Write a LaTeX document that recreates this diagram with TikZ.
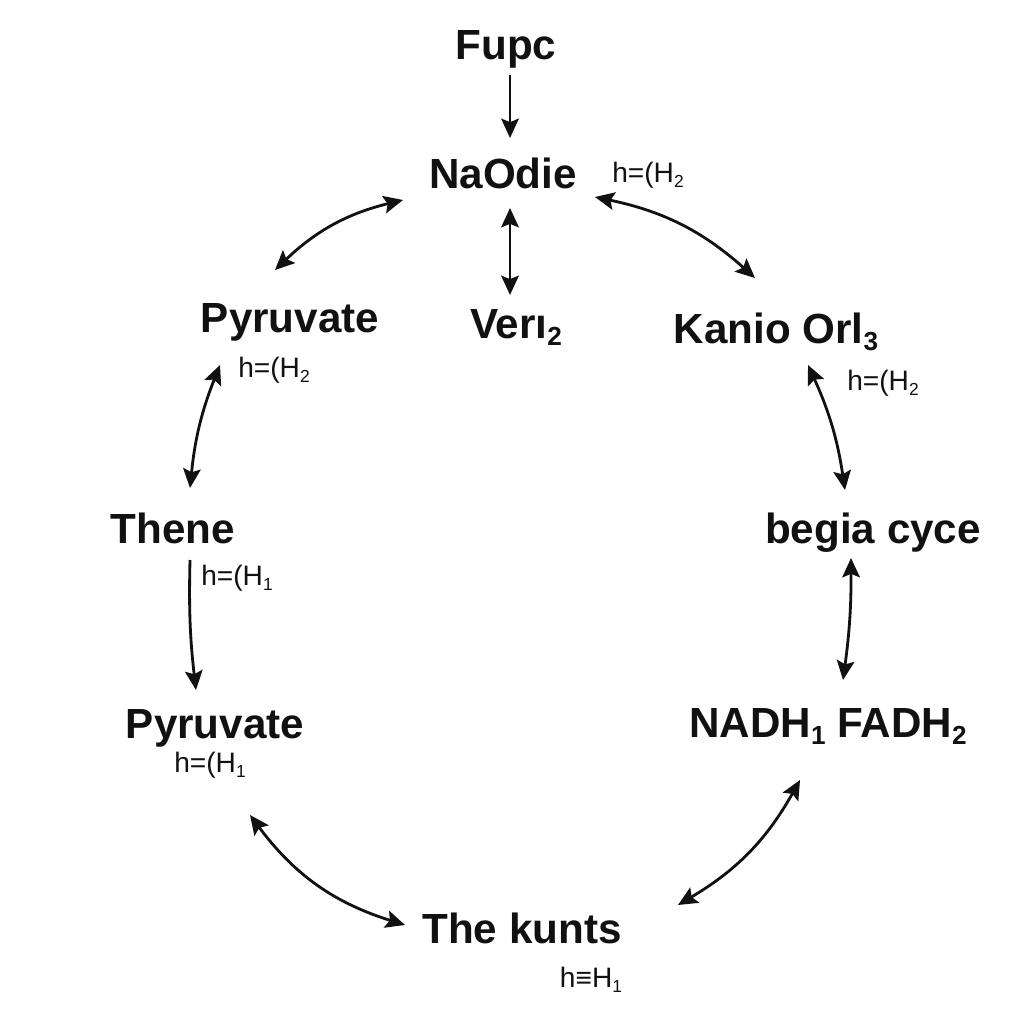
\documentclass[tikz,border=0pt]{standalone}
\usepackage{fontspec}
\setmainfont{Liberation Sans}
\usetikzlibrary{arrows.meta}
\definecolor{ink}{HTML}{111111}
\newcommand\sbs[1]{\raisebox{-0.35ex}{\scalebox{0.62}{#1}}}
\tikzset{
  mainlbl/.style={font=\bfseries\fontsize{24}{26}\selectfont, text=ink, inner sep=0pt, anchor=base},
  sublbl/.style={font=\fontsize{16}{18}\selectfont, text=ink, inner sep=0pt, anchor=base},
  arr2/.style={line width=1.6pt, draw=ink, {Stealth[length=11pt,width=10pt,inset=2pt]}-{Stealth[length=11pt,width=10pt,inset=2pt]}},
  arr1/.style={line width=1.6pt, draw=ink, -{Stealth[length=11pt,width=10pt,inset=2pt]}}
}
\begin{document}
\begin{tikzpicture}[x=0.02cm,y=-0.02cm]
\useasboundingbox[fill=white] (0,0) rectangle (1024,1024);
% main nodes
\node[mainlbl] (fupc)   at (506,60)  {Fupc};
\node[mainlbl] (naodie) at (503,188) {NaOdie};
\node[mainlbl] (veri)   at (516,338) {Ver\i\sbs{2}};
\node[mainlbl] (pyrA)   at (290,332) {Pyruvate};
\node[mainlbl] (kanio)  at (776,343) {Kanio Orl\sbs{3}};
\node[mainlbl] (thene)  at (173,543) {Thene};
\node[mainlbl] (begia)  at (873,543) {begia cyce};
\node[mainlbl] (pyrB)   at (215,738) {Pyruvate};
\node[mainlbl] (nadh)   at (828,737) {NADH\sbs{1} FADH\sbs{2}};
\node[mainlbl] (kunts)  at (522,943) {The kunts};
% small labels
\node[sublbl] (naolbl)   at (648,182) {h=(H\sbs{2}};
\node[sublbl] (pyrAlbl)  at (274,377) {h=(H\sbs{2}};
\node[sublbl] (kaniolbl) at (883,390) {h=(H\sbs{2}};
\node[sublbl] (thenelbl) at (237,585) {h=(H\sbs{1}};
\node[sublbl] (pyrBlbl)  at (210,772) {h=(H\sbs{1}};
\node[sublbl] (kuntslbl) at (591,987) {h≡H\sbs{1}};
% connectors
\draw[arr1] ([shift={(4,15)}]fupc.base) -- ([shift={(7,-50)}]naodie.base);
\draw[arr2] ([shift={(7,20)}]naodie.base) -- ([shift={(-6,-43)}]veri.base);
\draw[arr2] ([shift={(-100,12)}]naodie.base) to[bend right=15] ([shift={(-15,-62)}]pyrA.base);
\draw[arr2] ([shift={(92,9)}]naodie.base) to[bend left=15] ([shift={(-21,-65)}]kanio.base);
\draw[arr2] ([shift={(-54,-12)}]pyrAlbl.base) to[bend right=8] ([shift={(17,-55)}]thene.base);
\draw[arr2] ([shift={(32,22)}]kanio.base) to[bend left=8] ([shift={(-28,-53)}]begia.base);
\draw[arr1] ([shift={(17,17)}]thene.base) to[bend right=4] ([shift={(-19,-48)}]pyrB.base);
\draw[arr2] ([shift={(-22,15)}]begia.base) to[bend left=4] ([shift={(15,-57)}]nadh.base);
\draw[arr2] ([shift={(35,77)}]pyrB.base) to[bend right=18] ([shift={(-117,-18)}]kunts.base);
\draw[arr2] ([shift={(-28,43)}]nadh.base) to[bend left=15] ([shift={(156,-38)}]kunts.base);
\end{tikzpicture}
\end{document}
